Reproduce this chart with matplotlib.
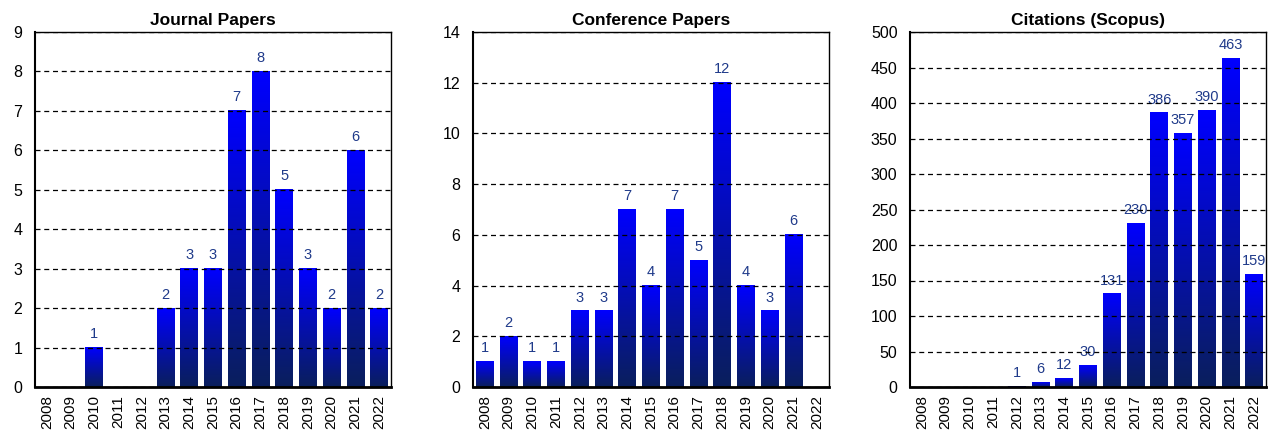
import matplotlib
matplotlib.use("Agg")
import matplotlib.pyplot as plt
import numpy as np
from matplotlib.colors import LinearSegmentedColormap

plt.rcParams['font.family'] = ['Liberation Sans', 'DejaVu Sans']

years = [str(y) for y in range(2008, 2023)]
journal = [0, 0, 1, 0, 0, 2, 3, 3, 7, 8, 5, 3, 2, 6, 2]
conference = [1, 2, 1, 1, 3, 3, 7, 4, 7, 5, 12, 4, 3, 6, 0]
citations = [0, 0, 0, 0, 1, 6, 12, 30, 131, 230, 386, 357, 390, 463, 159]

panels = [
    ("Journal Papers", journal, 9, 1),
    ("Conference Papers", conference, 14, 2),
    ("Citations (Scopus)", citations, 500, 50),
]

cmap = LinearSegmentedColormap.from_list("bg", ["#0a1f5c", "#0000ff"])
grad = np.linspace(0, 1, 256).reshape(-1, 1)

fig = plt.figure(figsize=(12.69, 4.36), dpi=100)
lefts = [35, 473, 910]
W = 356
for (title, vals, ymax, step), lx in zip(panels, lefts):
    ax = fig.add_axes([lx / 1269, 1 - 387 / 436, W / 1269, (387 - 32) / 436])
    x = np.arange(len(years))
    bars = ax.bar(x, vals, width=0.75, color='none', zorder=2)
    for b, v in zip(bars, vals):
        if v <= 0:
            continue
        x0 = b.get_x()
        ax.imshow(grad, extent=[x0, x0 + b.get_width(), 0, v], origin='lower',
                  aspect='auto', cmap=cmap, zorder=2, interpolation='bilinear')
        ax.text(x0 + b.get_width() / 2, v + ymax * 0.018, str(v), ha='center',
                va='bottom', color='#1f3a8a', fontsize=10.5, zorder=1)
    ax.set_xlim(-0.5, len(years) - 0.5)
    ax.set_ylim(0, ymax)
    ax.set_yticks(np.arange(0, ymax + step / 2, step))
    ax.set_xticks(x)
    ax.set_xticklabels(years, rotation=90, fontsize=11)
    ax.tick_params(axis='y', labelsize=11.5, length=0, pad=9)
    ax.tick_params(axis='x', length=0, pad=6)
    ax.yaxis.grid(True, linestyle=(0, (4, 3)), color='black', linewidth=0.9, zorder=1.5)
    ax.set_axisbelow(False)
    for s in ax.spines.values():
        s.set_color('black')
        s.set_linewidth(1.0)
    ax.spines['bottom'].set_linewidth(2.0)
    ax.spines['left'].set_linewidth(1.5)
    ax.set_title(title, fontsize=12.5, fontweight='bold', pad=5)

fig.savefig("out.png", dpi=100)
